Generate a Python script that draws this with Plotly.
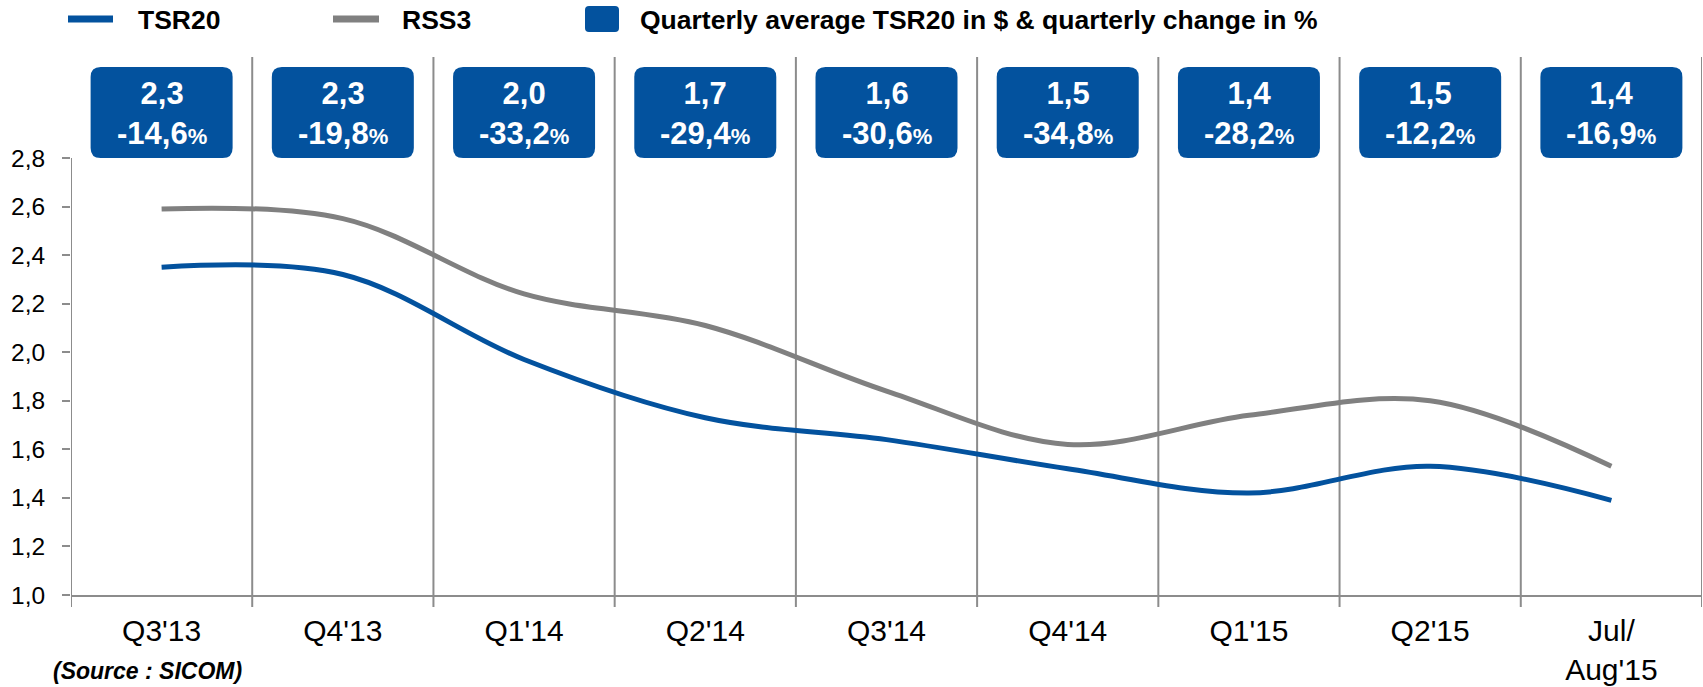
import plotly.graph_objects as go

categories = ["Q3'13", "Q4'13", "Q1'14", "Q2'14", "Q3'14", "Q4'14", "Q1'15", "Q2'15", "Jul/<br>Aug'15"]
tsr20 = [2.35, 2.32, 1.97, 1.73, 1.64, 1.52, 1.42, 1.53, 1.39]
rss3 = [2.59, 2.55, 2.24, 2.11, 1.84, 1.62, 1.74, 1.80, 1.53]
box_price = ["2,3", "2,3", "2,0", "1,7", "1,6", "1,5", "1,4", "1,5", "1,4"]
box_change = ["-14,6", "-19,8", "-33,2", "-29,4", "-30,6", "-34,8", "-28,2", "-12,2", "-16,9"]
y_ticks = [1.0, 1.2, 1.4, 1.6, 1.8, 2.0, 2.2, 2.4, 2.6, 2.8]

BLUE = "#03529E"
GREY = "#808080"
GRID = "#8C8C8C"
FONT = "Liberation Sans, Arial, sans-serif"

W, H = 1703, 687
L, R, T, B = 71, 1, 57, 92
PW, PH = W - L - R, H - T - B

def px_x(px):
    return (px - L) / PW

def px_y(py):
    return (H - B - py) / PH

n = len(categories)
idx = list(range(n))

fig = go.Figure()
fig.add_trace(go.Scatter(x=idx, y=rss3, mode="lines", name="RSS3",
                         line=dict(color=GREY, width=5, shape="spline", smoothing=1.0),
                         showlegend=False, hoverinfo="skip"))
fig.add_trace(go.Scatter(x=idx, y=tsr20, mode="lines", name="TSR20",
                         line=dict(color=BLUE, width=5, shape="spline", smoothing=1.0),
                         showlegend=False, hoverinfo="skip"))

shapes = []
for k in range(n):
    xb = k + 0.5
    shapes.append(dict(type="line", xref="x", yref="paper", x0=xb, x1=xb,
                       y0=px_y(607), y1=1.0, line=dict(color=GRID, width=2), layer="below"))
shapes.append(dict(type="line", xref="x", yref="paper", x0=-0.5, x1=-0.5,
                   y0=px_y(607), y1=px_y(158), line=dict(color=GRID, width=2), layer="below"))

rx = 10 / (PW / n)
ry = 10 / PH
y0b, y1b = px_y(158), px_y(67)
hw = 71 / (PW / n)
for i in idx:
    x0, x1 = i - hw, i + hw
    path = (f"M {x0+rx},{y0b} L {x1-rx},{y0b} Q {x1},{y0b} {x1},{y0b+ry} "
            f"L {x1},{y1b-ry} Q {x1},{y1b} {x1-rx},{y1b} L {x0+rx},{y1b} "
            f"Q {x0},{y1b} {x0},{y1b-ry} L {x0},{y0b+ry} Q {x0},{y0b} {x0+rx},{y0b} Z")
    shapes.append(dict(type="path", xref="x", yref="paper", path=path,
                       fillcolor=BLUE, line=dict(width=0)))

# legend marks
shapes.append(dict(type="line", xref="paper", yref="paper", x0=px_x(68), x1=px_x(113),
                   y0=px_y(19), y1=px_y(19), line=dict(color=BLUE, width=7)))
shapes.append(dict(type="line", xref="paper", yref="paper", x0=px_x(333), x1=px_x(379),
                   y0=px_y(19), y1=px_y(19), line=dict(color=GREY, width=7)))
sx0, sx1, sy0, sy1 = px_x(585), px_x(619), px_y(32), px_y(6)
srx, sry = 4 / PW, 4 / PH
shapes.append(dict(type="path", xref="paper", yref="paper",
                   path=(f"M {sx0+srx},{sy0} L {sx1-srx},{sy0} Q {sx1},{sy0} {sx1},{sy0+sry} "
                         f"L {sx1},{sy1-sry} Q {sx1},{sy1} {sx1-srx},{sy1} L {sx0+srx},{sy1} "
                         f"Q {sx0},{sy1} {sx0},{sy1-sry} L {sx0},{sy0+sry} Q {sx0},{sy0} {sx0+srx},{sy0} Z"),
                   fillcolor=BLUE, line=dict(width=0)))

annotations = []
for i in idx:
    txt = (f"<b>{box_price[i]}</b><br><b>{box_change[i]}"
           f"<span style='font-size:22px'>%</span></b>")
    annotations.append(dict(x=i, y=px_y(114), xref="x", yref="paper", text=txt,
                            showarrow=False, xanchor="center", yanchor="middle",
                            font=dict(family=FONT, size=31, color="white")))

legend_texts = [(136, "TSR20"), (400, "RSS3"), (638, "Quarterly average TSR20 in $ & quarterly change in %")]
for x, t in legend_texts:
    annotations.append(dict(x=px_x(x), y=px_y(20), xref="paper", yref="paper",
                            text=f"<b>{t}</b>", showarrow=False, xanchor="left", yanchor="middle",
                            font=dict(family=FONT, size=26.5, color="black")))

annotations.append(dict(x=px_x(51), y=px_y(671), xref="paper", yref="paper",
                        text="<b><i>(Source : SICOM)</i></b>", showarrow=False,
                        xanchor="left", yanchor="middle",
                        font=dict(family=FONT, size=23, color="black")))

fig.update_layout(
    width=W, height=H,
    margin=dict(l=L, r=R, t=T, b=B, pad=0),
    plot_bgcolor="white", paper_bgcolor="white",
    showlegend=False,
    shapes=shapes, annotations=annotations,
    xaxis=dict(range=[-0.5, n - 0.5], tickvals=idx, ticktext=categories,
               showgrid=False, zeroline=False, showline=True, linecolor=GRID, linewidth=2,
               ticks="", tickfont=dict(family=FONT, size=30, color="black"),
               ticklabelstandoff=8, fixedrange=True),
    yaxis=dict(range=[1.0, 1.0 + PH / 242.8], tickvals=y_ticks,
               ticktext=[f"{v:.1f}".replace(".", ",") for v in y_ticks],
               showgrid=False, zeroline=False, showline=False,
               ticks="outside", ticklen=8, tickwidth=2, tickcolor=GRID,
               tickfont=dict(family=FONT, size=24.5, color="black"),
               ticklabelstandoff=12, fixedrange=True),
)

fig.write_html("out.html", config={"displayModeBar": False, "staticPlot": True},
               post_script="document.body.style.margin='0px';")
